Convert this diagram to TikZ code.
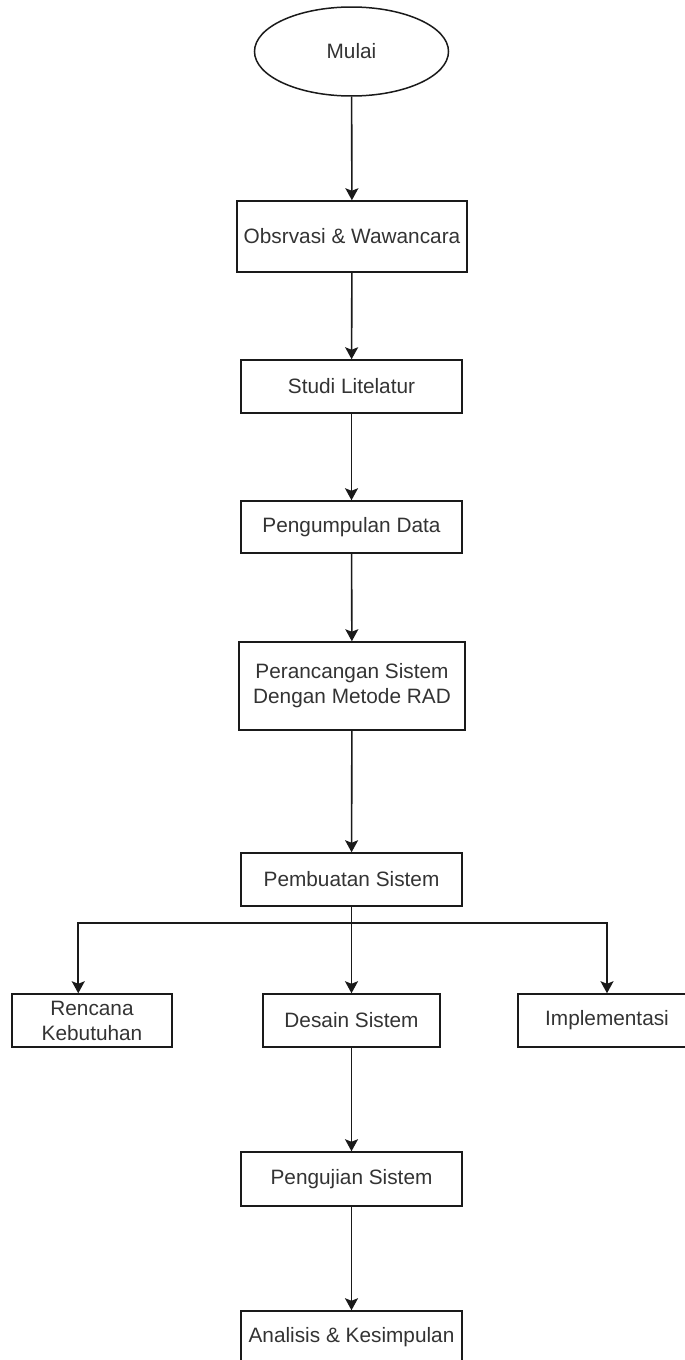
\documentclass[tikz,border=0pt]{standalone}
\usepackage{fontspec}
\setmainfont{Liberation Sans}
\usetikzlibrary{arrows.meta,shapes.geometric}
\definecolor{txt}{HTML}{333333}
\definecolor{ln}{HTML}{1A1A1A}
\begin{document}
\begin{tikzpicture}[x=1pt,y=-1pt,
  every node/.style={font=\fontsize{20.8}{25}\selectfont,text=txt,align=center,inner sep=0pt},
  box/.style={draw=ln,line width=1.5pt,rectangle},
  startnode/.style={draw=ln,line width=1.5pt,ellipse,minimum width=194pt,minimum height=89pt},
  arr/.style={draw=ln,line width=1.6pt,-{Stealth[length=12pt,width=13pt,inset=2.5pt]}},
  ]
\useasboundingbox (0,0) rectangle (685,1360);
\node[startnode] (mulai) at (351.5,51.5) {Mulai};
\node[box,minimum width=230pt,minimum height=71pt] (obs) at (352,236.5) {Obsrvasi \& Wawancara};
\node[box,minimum width=221pt,minimum height=53pt] (studi) at (351.5,386.5) {Studi Litelatur};
\node[box,minimum width=221pt,minimum height=52pt] (kumpul) at (351.5,527) {Pengumpulan Data};
\node[box,minimum width=226pt,minimum height=88pt] (rancang) at (352,686) {Perancangan Sistem\\Dengan Metode RAD};
\node[box,minimum width=221pt,minimum height=53pt] (buat) at (351.5,879.5) {Pembuatan Sistem};
\node[box,minimum width=160pt,minimum height=53pt] (ren) at (92,1020.5) {Rencana\\Kebutuhan};
\node[box,minimum width=177pt,minimum height=53pt] (desain) at (351.5,1020.5) {Desain Sistem};
\node[box,minimum width=178pt,minimum height=53pt] (impl) at (607,1020.5) {Implementasi};
\node[box,minimum width=221pt,minimum height=54pt] (uji) at (351.5,1179) {Pengujian Sistem};
\node[box,minimum width=221pt,minimum height=53pt] (anal) at (351.5,1337.5) {Analisis \& Kesimpulan};
\coordinate (branch) at (351.5,923);
\draw[arr] (mulai) -- (obs);
\draw[arr] (obs) -- (studi);
\draw[arr] (studi) -- (kumpul);
\draw[arr] (kumpul) -- (rancang);
\draw[arr] (rancang) -- (buat);
\draw[arr] (buat) -- (desain);
\draw[arr] (buat.south) |- (branch) -| ([xshift=67pt]ren.north west);
\draw[arr] (buat.south) |- (branch) -| (impl.north);
\draw[arr] (desain) -- (uji);
\draw[arr] (uji) -- (anal);
\end{tikzpicture}
\end{document}
